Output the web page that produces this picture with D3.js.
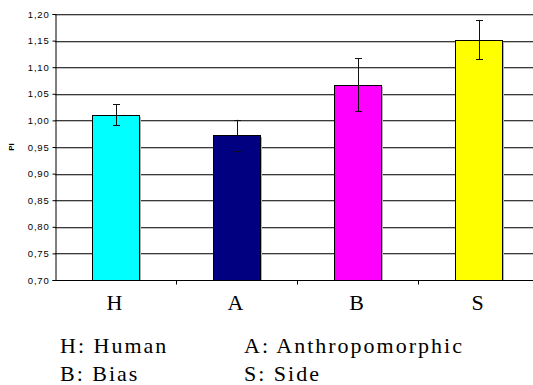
<!DOCTYPE html>
<html><head><meta charset="utf-8">
<script src="https://cdn.jsdelivr.net/npm/d3@7"></script>
<style>body{margin:0;background:#fff}svg{display:block}</style>
</head><body>
<script>
const categories = ["H","A","B","S"];
const values = [1.011, 0.973, 1.067, 1.152];
const errLow = [0.991, 0.942, 1.017, 1.115];
const errHigh = [1.030, 1.001, 1.117, 1.189];
const colors = ["#00FFFF","#000080","#FF00FF","#FFFF00"];
const yTicks = [0.70,0.75,0.80,0.85,0.90,0.95,1.00,1.05,1.10,1.15,1.20];
const legendItems = ["H: Human","A: Anthropomorphic","B: Bias","S: Side"];

(function(){
const W=533,H=385;
const pLeft=55,pRight=539,pTop=14,pBottom=280;
const svg=d3.select("body").append("svg").attr("width",W).attr("height",H);
const x=d3.scaleBand().domain(categories).range([pLeft,pRight]).paddingInner(0.61).paddingOuter(0.305);
const y=d3.scaleLinear().domain([0.7,1.2]).range([pBottom,pTop]);
const fmt=d=>d.toFixed(2).replace(".",",");

const g=svg.append("g");
yTicks.filter(d=>d>0.7).forEach(d=>{
  const yy=Math.round(y(d));
  g.append("line").attr("x1",pLeft).attr("x2",pRight).attr("y1",yy+1.5).attr("y2",yy+1.5).attr("stroke","#c0c0c0").attr("stroke-width",1);
  g.append("line").attr("x1",pLeft).attr("x2",pRight).attr("y1",yy+0.5).attr("y2",yy+0.5).attr("stroke","#3a3a3a").attr("stroke-width",1);
});

categories.forEach((c,i)=>{
  const bx=Math.round(x(c)),bw=Math.round(x.bandwidth()),by=Math.round(y(values[i]));
  svg.append("rect").attr("x",bx+2).attr("y",by+2).attr("width",bw).attr("height",pBottom-by-2).attr("fill","#b0b0b0");
  svg.append("rect").attr("x",bx+0.5).attr("y",by+0.5).attr("width",bw).attr("height",pBottom-by).attr("fill",colors[i]).attr("stroke","#000").attr("stroke-width",1);
});

categories.forEach((c,i)=>{
  const cx=Math.round(x(c)+x.bandwidth()/2)+0.5;
  const e=svg.append("g").attr("stroke","#111").attr("stroke-width",1);
  e.append("line").attr("x1",cx).attr("x2",cx).attr("y1",y(errHigh[i])).attr("y2",y(errLow[i]));
  e.append("line").attr("x1",cx-3.5).attr("x2",cx+3.5).attr("y1",Math.round(y(errHigh[i]))+0.5).attr("y2",Math.round(y(errHigh[i]))+0.5);
  e.append("line").attr("x1",cx-3.5).attr("x2",cx+3.5).attr("y1",Math.round(y(errLow[i]))+0.5).attr("y2",Math.round(y(errLow[i]))+0.5);
});

const ya=svg.append("g").attr("transform",`translate(${pLeft+0.5},0)`)
  .call(d3.axisLeft(y).tickValues(yTicks).tickFormat(fmt).tickSize(3).tickPadding(3));
ya.select(".domain").attr("stroke","#000");
ya.selectAll(".tick line").attr("stroke","#000");
ya.selectAll("text").attr("font-family","Arial, 'Liberation Sans', sans-serif").attr("font-size",9.5).attr("fill","#000").attr("letter-spacing","0.8px");

const xa=svg.append("g").attr("transform",`translate(0,${pBottom+0.5})`);
xa.append("line").attr("x1",pLeft).attr("x2",pRight).attr("stroke","#000");
const bounds=categories.map(c=>x(c)-x.step()*x.paddingInner()/2).slice(1);
bounds.forEach(b=>xa.append("line").attr("x1",Math.round(b)+0.5).attr("x2",Math.round(b)+0.5).attr("y1",0).attr("y2",4).attr("stroke","#000"));
categories.forEach(c=>{
  xa.append("text").attr("x",x(c)+x.bandwidth()/2-1).attr("y",29).attr("text-anchor","middle")
    .attr("font-family","'Liberation Serif','Times New Roman',serif").attr("font-size",22).attr("fill","#000").text(c);
});

svg.append("text").attr("transform","translate(14,147) rotate(-90)").attr("text-anchor","middle")
  .attr("font-family","Arial, 'Liberation Sans', sans-serif").attr("font-size",8).attr("font-weight","bold").text("PI");

const lx=[60,244],ly=[353,381];
legendItems.forEach((t,i)=>{
  svg.append("text").attr("x",lx[i%2]).attr("y",ly[Math.floor(i/2)])
    .attr("font-family","'Liberation Serif','Times New Roman',serif").attr("font-size",22).attr("fill","#000")
    .attr("letter-spacing","2px").text(t);
});
})();
</script>
</body></html>
